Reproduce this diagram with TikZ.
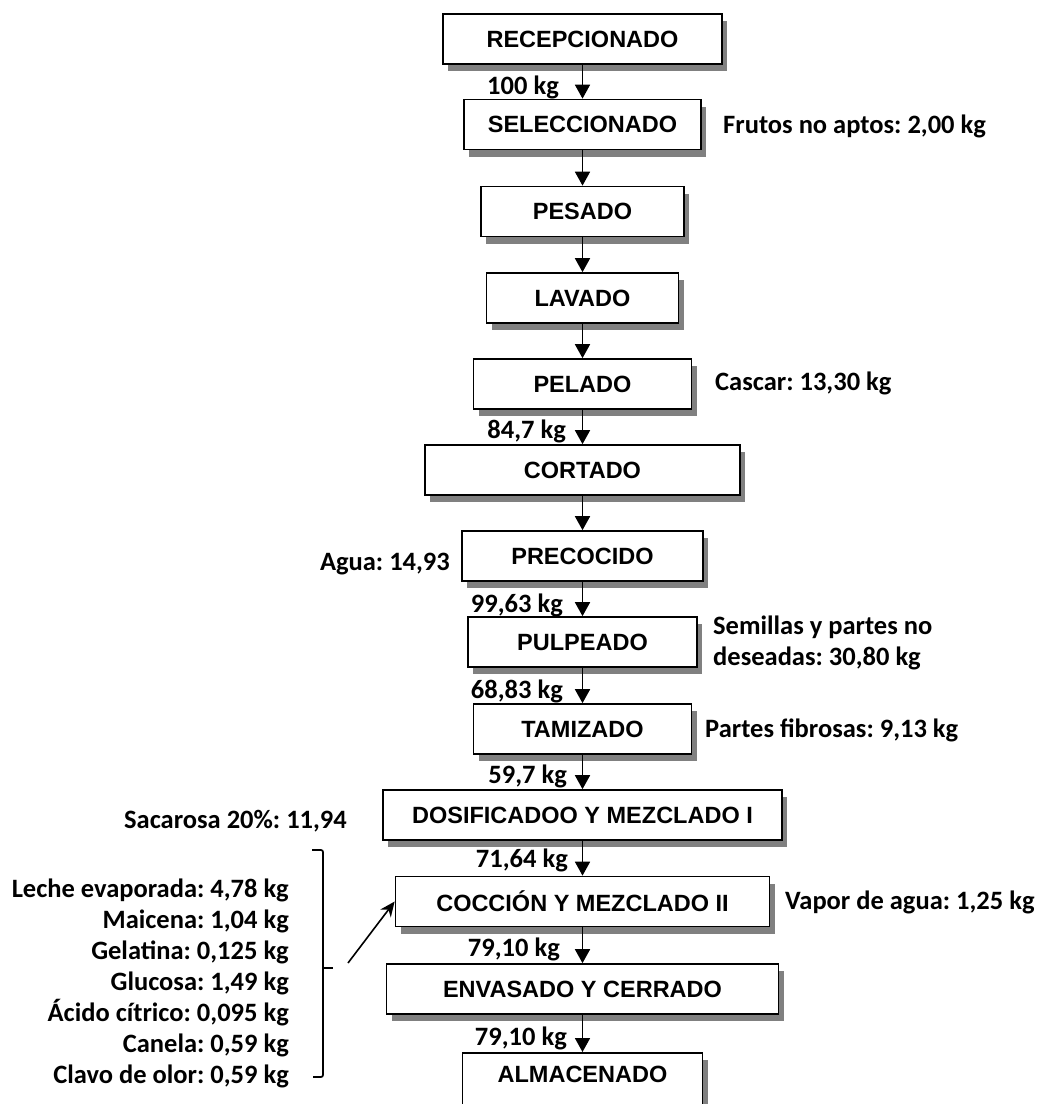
\documentclass[tikz,border=0pt]{standalone}
\usepackage{fontspec}
\setmainfont{Carlito}
\newfontfamily\boxfont{Liberation Sans}
\usetikzlibrary{shadows,arrows.meta}
\frenchspacing

\tikzset{
  stage/.style={draw=black, line width=1.7pt, fill=white, minimum height=50pt,
    inner sep=0pt, font=\boxfont\bfseries\fontsize{23.5}{28}\selectfont,
    drop shadow={shadow xshift=5pt, shadow yshift=-7pt, fill=black!50, opacity=1}},
  note/.style={font=\bfseries\fontsize{26.5}{31}\selectfont, inner sep=0pt},
  flow/.style={line width=1.8pt, -{Triangle[width=15pt,length=14pt]}},
  feed/.style={line width=1.6pt, -{Stealth[width=13pt,length=15pt]}},
  brace/.style={line width=1.7pt, rounded corners=2pt},
}

\begin{document}
\begin{tikzpicture}[x=1pt,y=-1pt]
\useasboundingbox (0,0) rectangle (1040,1104);
\clip (0,0) rectangle (1040,1104);

% process stages
\node[stage, minimum width=279pt] (rec) at (582.5,39)    {RECEPCIONADO};
\node[stage, minimum width=237pt] (sel) at (582.5,124.5) {SELECCIONADO};
\node[stage, minimum width=203pt] (pes) at (582.5,211.5) {PESADO};
\node[stage, minimum width=192pt] (lav) at (582.5,298)   {LAVADO};
\node[stage, minimum width=218pt] (pel) at (582.5,384)   {PELADO};
\node[stage, minimum width=315pt] (cor) at (582.5,470)   {CORTADO};
\node[stage, minimum width=241pt] (pre) at (582.5,556)   {PRECOCIDO};
\node[stage, minimum width=229pt] (pul) at (582.5,642)   {PULPEADO};
\node[stage, minimum width=218pt] (tam) at (582.5,729)   {TAMIZADO};
\node[stage, minimum width=399pt] (dos) at (582.5,815)   {DOSIFICADOO Y MEZCLADO I};
\node[stage, minimum width=374pt] (coc) at (582.5,901.5) {COCCIÓN Y MEZCLADO II};
\node[stage, minimum width=392pt] (env) at (582.5,989)   {ENVASADO Y CERRADO};
\node[stage, minimum width=240pt, minimum height=62pt, text depth=20pt, anchor=north]
      (alm) at (582.5,1052) {ALMACENADO};

% main flow
\foreach \a/\b in {rec/sel, sel/pes, pes/lav, lav/pel, pel/cor, cor/pre, pre/pul,
                   pul/tam, tam/dos, dos/coc, coc/env, env/alm}
  \draw[flow] (\a.south) -- (\b.north);

% mass between stages
\node[note, anchor=base east] (m0) at (559,94)   {100 kg};
\node[note, anchor=base east] (m1) at (566,438)  {84,7 kg};
\node[note, anchor=base east] (m2) at (563,612)  {99,63 kg};
\node[note, anchor=base east] (m3) at (563,698)  {68,83 kg};
\node[note, anchor=base east] (m4) at (567,783)  {59,7 kg};
\node[note, anchor=base east] (m5) at (568,867)  {71,64 kg};
\node[note, anchor=base east] (m6) at (560,956)  {79,10 kg};
\node[note, anchor=base east] (m7) at (567,1045) {79,10 kg};

% losses
\node[note, anchor=base west] (l1) at (723,133) {Frutos no aptos: 2,00 kg};
\node[note, anchor=base west] (l2) at (715,390) {Cascar: 13,30 kg};
\node[note, anchor=base west, align=left] (l3) at (713,665)
      {Semillas y partes no\\deseadas: 30,80 kg};
\node[note, anchor=base west] (l4) at (705,737) {Partes fibrosas: 9,13 kg};
\node[note, anchor=base west] (l5) at (785,909) {Vapor de agua: 1,25 kg};

% inputs
\node[note, anchor=base east] (i1) at (450,570) {Agua: 14,93};
\node[note, anchor=base east] (i2) at (347,828) {Sacarosa 20\%: 11,94};
\node[note, anchor=base east, align=right] (i3) at (289,1083)
      {Leche evaporada: 4,78 kg\\
       Maicena: 1,04 kg\\
       Gelatina: 0,125 kg\\
       Glucosa: 1,49 kg\\
       Ácido cítrico: 0,095 kg\\
       Canela: 0,59 kg\\
       Clavo de olor: 0,59 kg};

% bracket grouping the ingredients
\draw[brace] (312,850) -- (323,850) -- (323,1077) -- (313,1077);
\draw[line width=1.7pt] (323,968) -- (333,968);
\coordinate (feedstart) at (348,963);
\draw[feed] (feedstart) -- (coc.west);
\end{tikzpicture}
\end{document}
